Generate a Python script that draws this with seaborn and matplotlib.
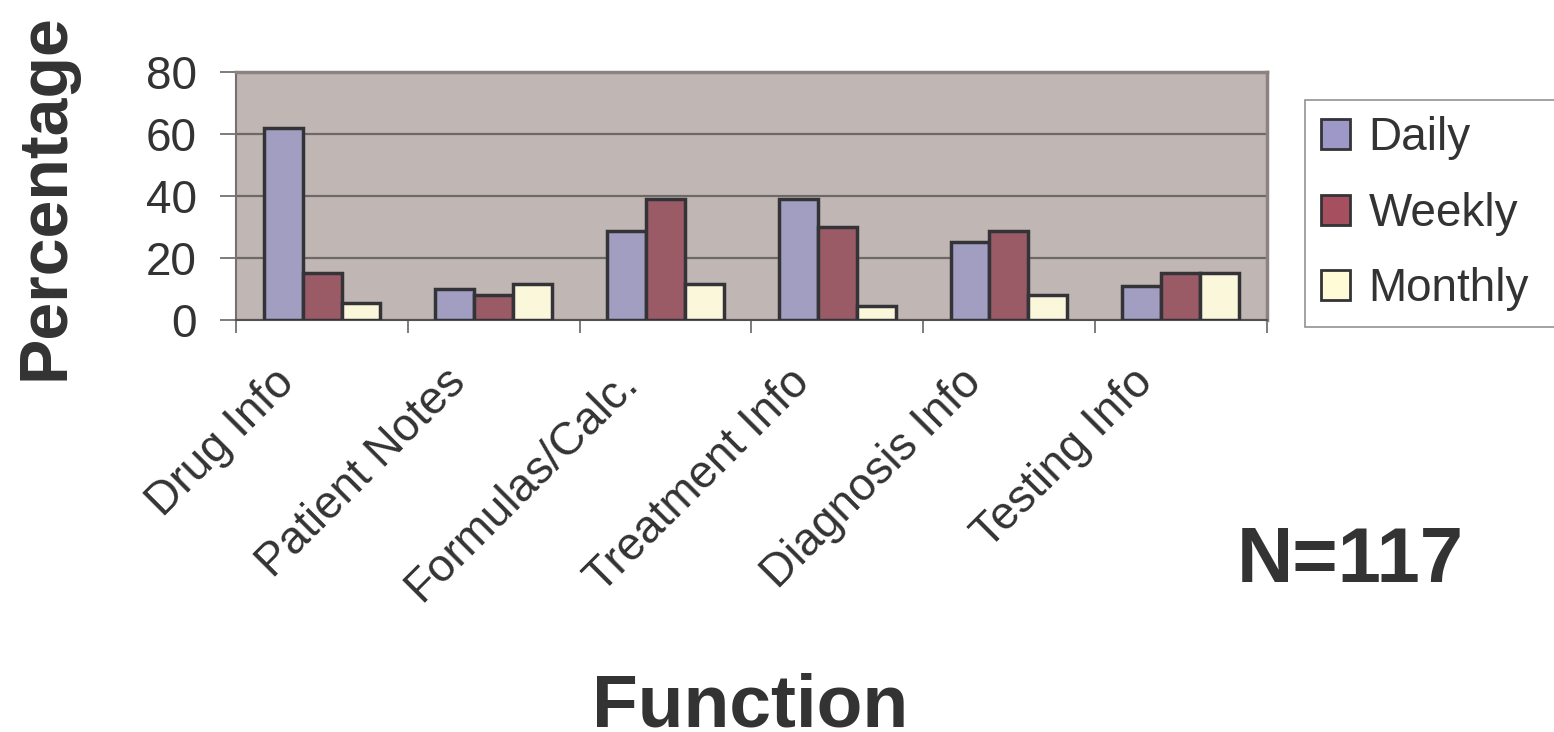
import numpy as np
import pandas as pd
import matplotlib
matplotlib.use("Agg")
import matplotlib.pyplot as plt
import seaborn as sns

functions = ["Drug Info", "Patient Notes", "Formulas/Calc.", "Treatment Info",
             "Diagnosis Info", "Testing Info"]
frequencies = ["Daily", "Weekly", "Monthly"]
daily = [62, 10, 28.5, 39, 25, 11]
weekly = [15, 8, 39, 30, 28.5, 15]
monthly = [5.5, 11.5, 11.5, 4.5, 8, 15]
y_ticks = [0, 20, 40, 60, 80]

colors = ["#9D98C8", "#A6505F", "#FFFBD6"]
text_col = "#333333"

df = pd.DataFrame({
    "Function": functions * 3,
    "Frequency": np.repeat(frequencies, len(functions)),
    "Percentage": daily + weekly + monthly,
})

sns.set_style("white")
plt.rcParams["font.family"] = ["Liberation Sans", "DejaVu Sans"]

fig = plt.figure(figsize=(15.54, 7.32), dpi=100)
ax = fig.add_axes([0.152, 0.563, 0.663, 0.339])
ax.set_facecolor("#C0B7B4")

sns.barplot(data=df, x="Function", y="Percentage", hue="Frequency",
            hue_order=frequencies, palette=colors, width=0.68,
            edgecolor="#333338", linewidth=2.5, ax=ax, legend=False, zorder=3)

ax.set_ylim(0, 80)
ax.set_xlim(-0.5, len(functions) - 0.5)
ax.set_yticks(y_ticks)
ax.set_yticklabels([str(t) for t in y_ticks], fontsize=33, color=text_col)
ax.yaxis.grid(True, color="#6E6868", linewidth=1.6, zorder=0)
ax.set_axisbelow(True)

# category ticks sit between groups
ax.set_xticks(np.arange(-0.5, len(functions)))
ax.set_xticklabels([])
ax.tick_params(axis="x", direction="out", length=9.5, width=1.2,
               color="#666666", bottom=True)
ax.tick_params(axis="y", direction="out", length=11.5, width=1.2,
               color="#666666", left=True, pad=17)
for i, name in enumerate(functions):
    ax.text(i - 0.29, -13, name, rotation=45, ha="right", va="top",
            rotation_mode="anchor", fontsize=33, color=text_col,
            transform=ax.transData, clip_on=False)

for side in ["top", "right"]:
    ax.spines[side].set_color("#8C8282")
    ax.spines[side].set_linewidth(2.5)
ax.spines["left"].set_color("#777070")
ax.spines["left"].set_linewidth(1.5)
ax.spines["bottom"].set_color("#555050")
ax.spines["bottom"].set_linewidth(1.5)
ax.set_xlabel("")
ax.set_ylabel("")

handles = [plt.Rectangle((0, 0), 1, 1, facecolor=c, edgecolor="#333338",
                         linewidth=2) for c in colors]
# box runs off the right edge like the original
leg = fig.legend(handles, frequencies, loc="upper left",
                 bbox_to_anchor=(0.8398, 0.8634, 0.18, 0), mode="expand",
                 fontsize=33, frameon=True,
                 fancybox=False, handlelength=0.63, handleheight=0.63,
                 handletextpad=0.4, labelspacing=0.69, borderpad=0.35,
                 borderaxespad=0, labelcolor=text_col)
leg.get_frame().set_edgecolor("#777777")
leg.get_frame().set_linewidth(1.2)

fig.text(0.0296, 0.731, "Percentage", rotation=90, ha="center", va="center",
         fontsize=49, fontweight="bold", color=text_col)
fig.text(0.483, 0.007, "Function", ha="center", va="baseline",
         fontsize=54, fontweight="bold", color=text_col)
fig.text(0.869, 0.233, "N=117", ha="center", va="center",
         fontsize=56, fontweight="bold", color=text_col)

fig.savefig("out.png", dpi=100)
